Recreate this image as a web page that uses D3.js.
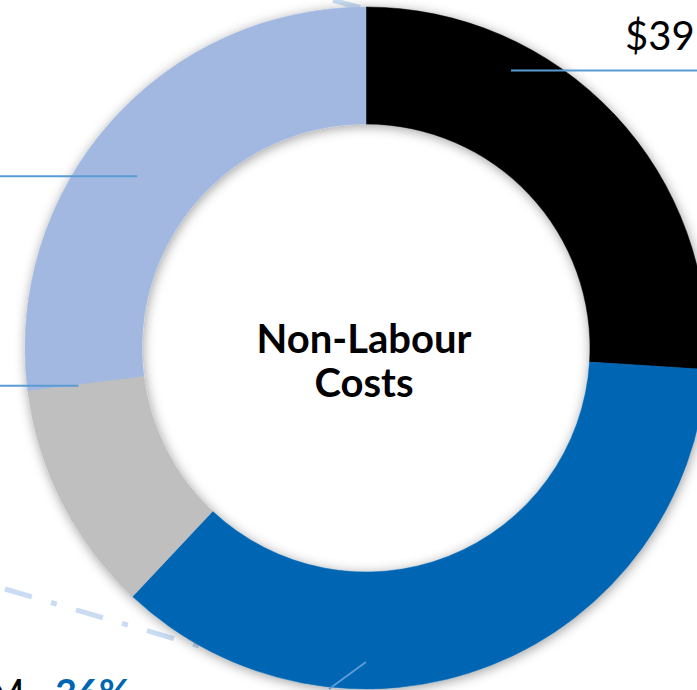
<!DOCTYPE html>
<html>
<head>
<meta charset="utf-8">
<script src="https://cdn.jsdelivr.net/npm/d3@7"></script>
<style>
  html, body { margin: 0; padding: 0; background: #ffffff; }
  svg { display: block; }
</style>
</head>
<body>
<script>
// Share of non-labour costs by category (percent), clockwise from 12 o'clock
const categories = ["Category 1", "Category 2", "Category 3", "Category 4"];
const shares = [26, 36, 11, 27];
const sliceColors = ["#000000", "#0066B3", "#BFBFBF", "#A2B8E0"];

// Label text fragments shown at the chart edges
const centerLines = ["Non-Labour", "Costs"];
const topRightLabel = "$39";
const bottomLeftLabel = "M,";
const bottomLeftPct = "36%";

// Leader lines: anchor point on the ring (degrees clockwise from top, radius) and free-end offset
const leaderAngles = [27.6, 180, 262.5, 306.9];
const leaderRadii = [313, 314, 290, 286];
const leaderEnds = [[200, 0], [-37, 27], [-90, 0], [-150, 0]];

const width = 697, height = 690;
const cx = 366, cy = 348;
const outerR = 341, innerR = 224;

const svg = d3.select("body").append("svg")
  .attr("width", width).attr("height", height);

svg.append("rect").attr("width", width).attr("height", height).attr("fill", "#ffffff");

const defs = svg.append("defs");
const shadow = defs.append("filter").attr("id", "ringShadow")
  .attr("x", "-20%").attr("y", "-20%").attr("width", "140%").attr("height", "140%");
shadow.append("feDropShadow")
  .attr("dx", 1).attr("dy", 2).attr("stdDeviation", 6)
  .attr("flood-color", "#000").attr("flood-opacity", 0.38);

// Dash-dot connector lines passing behind the ring
const connector = d3.line();
const dashStyle = g => g.attr("fill", "none").attr("stroke", "#C9DCF2")
  .attr("stroke-width", 5).attr("stroke-dasharray", "28,20,6,20");
svg.append("path").attr("d", connector([[5, 589], [240, 658]])).call(dashStyle);
svg.append("path").attr("d", connector([[360, 7.5], [100, -62]])).call(dashStyle);

// Donut
const pie = d3.pie().sort(null).value(d => d);
const arc = d3.arc().innerRadius(innerR).outerRadius(outerR);

const ring = svg.append("g")
  .attr("transform", `translate(${cx},${cy})`)
  .attr("filter", "url(#ringShadow)");

ring.selectAll("path")
  .data(pie(shares))
  .join("path")
  .attr("d", arc)
  .attr("fill", (d, i) => sliceColors[i])
  .attr("stroke", (d, i) => sliceColors[i])
  .attr("stroke-width", 0.5);

// Leader lines
const toXY = (deg, r) => {
  const a = deg * Math.PI / 180;
  return [cx + r * Math.sin(a), cy - r * Math.cos(a)];
};
leaderAngles.forEach((deg, i) => {
  const p = toXY(deg, leaderRadii[i]);
  const q = [p[0] + leaderEnds[i][0], p[1] + leaderEnds[i][1]];
  svg.append("path")
    .attr("d", connector([p, q]))
    .attr("fill", "none")
    .attr("stroke", "#5B9BD5")
    .attr("stroke-width", 2);
});

// Centre title
const font = "Lato, 'Open Sans', sans-serif";
svg.append("text")
  .attr("text-anchor", "middle")
  .attr("font-family", font).attr("font-weight", 700).attr("font-size", 40)
  .attr("fill", "#000")
  .selectAll("tspan").data(centerLines).join("tspan")
  .attr("x", cx - 2)
  .attr("y", (d, i) => 353 + i * 44)
  .text(d => d);

// Edge labels
svg.append("text")
  .attr("x", 625).attr("y", 50)
  .attr("font-family", font).attr("font-size", 40).attr("fill", "#000")
  .text(topRightLabel);

svg.append("text")
  .attr("x", 33).attr("y", 707).attr("text-anchor", "end")
  .attr("font-family", font).attr("font-size", 38).attr("fill", "#000")
  .text(bottomLeftLabel);

svg.append("text")
  .attr("x", 55).attr("y", 707)
  .attr("font-family", font).attr("font-weight", 700).attr("font-size", 38)
  .attr("fill", sliceColors[1])
  .text(bottomLeftPct);
</script>
</body>
</html>
